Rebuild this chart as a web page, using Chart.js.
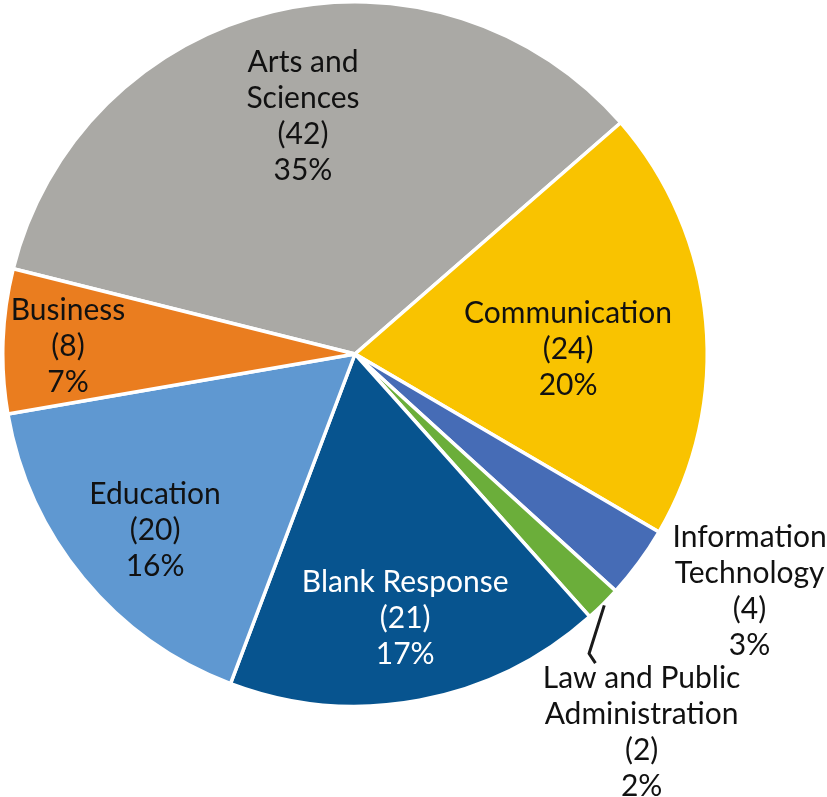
<!DOCTYPE html>
<html>
<head>
<meta charset="utf-8">
<script src="https://cdn.jsdelivr.net/npm/chart.js@4/dist/chart.umd.min.js"></script>
<style>
html,body{margin:0;padding:0;background:#fff;}
#wrap{position:relative;width:827px;height:797px;}
</style>
</head>
<body>
<div id="wrap"><canvas id="c"></canvas></div>
<script>
const categories = ['Arts and\nSciences', 'Communication', 'Information\nTechnology', 'Law and Public\nAdministration', 'Blank Response', 'Education', 'Business'];
const counts = [42, 24, 4, 2, 21, 20, 8];
const percents = [35, 20, 3, 2, 17, 16, 7];
const colors = ['#AAA9A5', '#F9C300', '#466CB6', '#6BAE3A', '#07548F', '#5F98D1', '#EA7D1F'];
const textColors = ['#111', '#111', '#111', '#111', '#fff', '#111', '#111'];
// label placement: angle offset (deg) from slice middle, radius factor
const labelAngleOffset = [1.2, 4.0, -5.3, 7.6, -0.2, -1.8, -0.6];
const labelRadius = [0.692, 0.605, 1.307, 1.347, 0.764, 0.756, 0.815];

const labelPlugin = {
  id: 'sliceLabels',
  afterDatasetsDraw(chart) {
    const ctx = chart.ctx;
    const meta = chart.getDatasetMeta(0);
    const lh = 36;
    ctx.save();
    ctx.font = '30px Lato';
    ctx.textAlign = 'center';
    ctx.textBaseline = 'middle';
    meta.data.forEach((arc, i) => {
      const p = arc.getProps(['x', 'y', 'startAngle', 'endAngle', 'outerRadius'], true);
      const mid = (p.startAngle + p.endAngle) / 2;
      const a = mid + labelAngleOffset[i] * Math.PI / 180;
      const r = p.outerRadius * labelRadius[i];
      const cx = p.x + Math.cos(a) * r;
      const cy = p.y + Math.sin(a) * r;
      const lines = categories[i].split('\n').concat(['(' + counts[i] + ')', percents[i] + '%']);
      const y0 = cy - (lines.length - 1) * lh / 2;
      ctx.fillStyle = textColors[i];
      lines.forEach((t, k) => ctx.fillText(t, cx, y0 + k * lh));
      if (labelRadius[i] > 1.32) {
        // leader line
        const a2 = mid + 7 * Math.PI / 180;
        const r1 = p.outerRadius * 1.005, r2 = p.outerRadius * 1.11;
        ctx.strokeStyle = '#1a1a1a';
        ctx.lineWidth = 3;
        ctx.beginPath();
        ctx.moveTo(p.x + Math.cos(mid) * r1, p.y + Math.sin(mid) * r1);
        ctx.lineTo(p.x + Math.cos(a2) * (r2 - 12) + 2, p.y + Math.sin(a2) * (r2 - 12));
        ctx.lineTo(p.x + Math.cos(a2) * r2 + 1, p.y + Math.sin(a2) * r2);
        ctx.stroke();
      }
    });
    ctx.restore();
  }
};

new Chart(document.getElementById('c'), {
  type: 'pie',
  data: {
    labels: categories.map(s => s.replace('\n', ' ')),
    datasets: [{
      data: counts,
      backgroundColor: colors,
      borderColor: '#ffffff',
      borderWidth: 3.5
    }]
  },
  options: {
    responsive: true,
    maintainAspectRatio: false,
    animation: false,
    rotation: 284,
    layout: { padding: { left: 1, top: 0, right: 118, bottom: 89 } },
    plugins: { legend: { display: false }, tooltip: { enabled: false } }
  },
  plugins: [labelPlugin]
});
</script>
</body>
</html>
